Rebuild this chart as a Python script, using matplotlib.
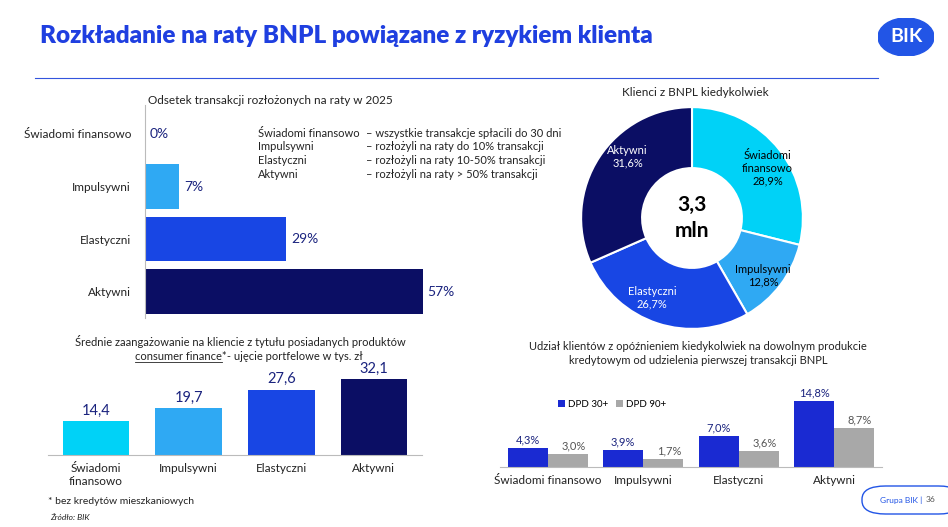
import matplotlib
matplotlib.use("Agg")
import matplotlib.pyplot as plt
from matplotlib.patches import FancyBboxPatch, Circle

plt.rcParams['font.family'] = ['Lato', 'DejaVu Sans']

W, H = 948, 527
fig = plt.figure(figsize=(W/100, H/100), dpi=100)

def ax_px(x0, y0, x1, y1):
    return fig.add_axes([x0/W, 1-y1/H, (x1-x0)/W, (y1-y0)/H])

def t(x, y, s, **kw):
    fig.text(x/W, 1-y/H, s, **kw)

# data
seg = ["Świadomi finansowo", "Impulsywni", "Elastyczni", "Aktywni"]
share_inst = [0, 7, 29, 57]
donut_vals = [28.9, 12.8, 26.7, 31.6]
engagement = [14.4, 19.7, 27.6, 32.1]
dpd30 = [4.3, 3.9, 7.0, 14.8]
dpd90 = [3.0, 1.7, 3.6, 8.7]

c_cyan = "#00d2f7"; c_light = "#2fa9f3"; c_blue = "#1846e4"; c_navy = "#0b0e64"
txtc = "#222222"; numc = "#1a237e"

# title
t(40, 36, "Rozkładanie na raty BNPL powiązane z ryzykiem klienta", fontsize=17.5,
  fontweight='heavy', color="#1f3fe0", va='center')
fig.add_artist(plt.Line2D([35/W, 878/W], [1-78/H, 1-78/H], color="#3355dd", lw=0.8))
ax_logo = ax_px(878, 18, 934, 56); ax_logo.set_xlim(0, 1); ax_logo.set_ylim(0, 1); ax_logo.axis('off')
ax_logo.add_patch(Circle((0.5, 0.5), 0.5, color="#2255e6"))
ax_logo.text(0.5, 0.5, "BIK", color='white', fontsize=14, fontweight='bold', ha='center', va='center')

# panel 1
ax1 = ax_px(145, 105, 520, 318)
cols1 = [c_cyan, c_light, c_blue, c_navy]
ypos = [0, 1, 2, 3]
ax1.barh(ypos, share_inst, height=0.85, color=cols1)
ax1.set_ylim(3.5, -0.55); ax1.set_xlim(0, 77)
for s in ['top', 'right', 'bottom']:
    ax1.spines[s].set_visible(False)
ax1.spines['left'].set_color('#bbbbbb')
ax1.set_xticks([]); ax1.set_yticks(ypos)
ax1.set_yticklabels(seg, fontsize=8.5, color=txtc)
ax1.tick_params(axis='y', length=0, pad=10)
for y, v in zip(ypos, share_inst):
    ax1.text(v+1, y, f"{v}%", va='center', fontsize=10, color=numc)
t(148, 100, "Odsetek transakcji rozłożonych na raty w 2025", fontsize=8.5, color=txtc, va='center')
leg = [("Świadomi finansowo", "– wszystkie transakcje spłacili do 30 dni"),
       ("Impulsywni", "– rozłożyli na raty do 10% transakcji"),
       ("Elastyczni", "– rozłożyli na raty 10-50% transakcji"),
       ("Aktywni", "– rozłożyli na raty > 50% transakcji")]
for i, (a, b) in enumerate(leg):
    t(258, 133+i*14, a, fontsize=8, color=txtc, va='center')
    t(366, 133+i*14, b, fontsize=8, color=txtc, va='center')

# donut
ax2 = ax_px(580, 106, 804, 330)
ax2.pie(donut_vals, colors=[c_cyan, c_light, c_blue, c_navy], startangle=90, counterclock=False,
        wedgeprops=dict(width=0.55, edgecolor='white', linewidth=1.5))
ax2.set_xlim(-1.01, 1.01); ax2.set_ylim(-1.01, 1.01)
ax2.set_aspect('equal')
ax2.text(0, 0, "3,3\nmln", ha='center', va='center', fontsize=15, fontweight='bold', color='black', linespacing=1.4)
for ang_lbl, v, name, col in [((0.68, 0.45), donut_vals[0], "Świadomi\nfinansowo", 'black'),
                               ((0.64, -0.52), donut_vals[1], "Impulsywni", 'black'),
                               ((-0.36, -0.72), donut_vals[2], "Elastyczni", 'white'),
                               ((-0.58, 0.55), donut_vals[3], "Aktywni", 'white')]:
    ax2.text(*ang_lbl, f"{name}\n{v:.1f}%".replace('.', ','), ha='center', va='center',
             fontsize=8, color=col)
t(695, 92, "Klienci z BNPL kiedykolwiek", fontsize=8.5, color=txtc, ha='center', va='center')

# panel 3
ax3 = ax_px(48, 370, 422, 455)
x3 = [0, 1, 2, 3]
ax3.bar(x3, engagement, width=0.72, color=cols1)
ax3.set_xlim(-0.52, 3.52); ax3.set_ylim(0, 36)
for s in ['top', 'right', 'left']:
    ax3.spines[s].set_visible(False)
ax3.spines['bottom'].set_color('#bbbbbb')
ax3.set_yticks([]); ax3.set_xticks(x3)
ax3.set_xticklabels(["Świadomi\nfinansowo", "Impulsywni", "Elastyczni", "Aktywni"], fontsize=8.5, color=txtc)
ax3.tick_params(axis='x', length=0, pad=6)
for x, v in zip(x3, engagement):
    ax3.text(x, v+1.5, f"{v:.1f}".replace('.', ','), ha='center', va='bottom', fontsize=10.5, color=numc)
t(240, 342, "Średnie zaangażowanie na kliencie z tytułu posiadanych produktów", fontsize=8, color=txtc, ha='center', va='center')
t(135, 356, "consumer finance*", fontsize=8, color=txtc, va='center')
fig.add_artist(plt.Line2D([135/W, 222/W], [1-362/H, 1-362/H], color=txtc, lw=0.6))
t(224, 356, " - ujęcie portfelowe w tys. zł", fontsize=8, color=txtc, va='center')

# panel 4
ax4 = ax_px(500, 380, 882, 467)
x4 = [0, 1, 2, 3]
bw = 0.42
ax4.bar([x-bw/2 for x in x4], dpd30, width=bw, color="#1a2ad2", label="DPD 30+")
ax4.bar([x+bw/2 for x in x4], dpd90, width=bw, color="#a8a8a8", label="DPD 90+")
ax4.set_xlim(-0.5, 3.5); ax4.set_ylim(0, 19.5)
for s in ['top', 'right', 'left']:
    ax4.spines[s].set_visible(False)
ax4.spines['bottom'].set_color('#bbbbbb')
ax4.set_yticks([]); ax4.set_xticks(x4)
ax4.set_xticklabels(seg, fontsize=8.5, color=txtc)
ax4.tick_params(axis='x', length=0, pad=6)
for x, v in zip(x4, dpd30):
    ax4.text(x-bw/2, v+0.6, f"{v:.1f}%".replace('.', ','), ha='center', va='bottom', fontsize=8, color=numc)
for x, v in zip(x4, dpd90):
    ax4.text(x+bw/2+0.06, v+0.6, f"{v:.1f}%".replace('.', ','), ha='center', va='bottom', fontsize=8, color='#555555')
ax4.legend(loc='center left', bbox_to_anchor=(0.13, 0.72), ncol=2, frameon=False, fontsize=7,
           handlelength=0.7, handletextpad=0.3, columnspacing=0.8)
t(698, 347, "Udział klientów z opóźnieniem kiedykolwiek na dowolnym produkcie", fontsize=8, color=txtc, ha='center', va='center')
t(698, 361, "kredytowym od udzielenia pierwszej transakcji BNPL", fontsize=8, color=txtc, ha='center', va='center')

# footer
t(48, 502, "* bez kredytów mieszkaniowych", fontsize=7.5, color=txtc, va='center')
t(50, 517, "Źródło: BIK", fontsize=6, style='italic', color=txtc, va='center')
fig.add_artist(FancyBboxPatch((862/W, 1-514/H), 100/W, 28/H, boxstyle="round,pad=0,rounding_size=0.025",
                              fc='white', ec='#2255e6', lw=1, transform=fig.transFigure))
t(880, 500, "Grupa BIK |", fontsize=6, color='#2255e6', va='center')
t(926, 500, "36", fontsize=6, color='#555555', va='center')

fig.savefig("out.png", dpi=100)
